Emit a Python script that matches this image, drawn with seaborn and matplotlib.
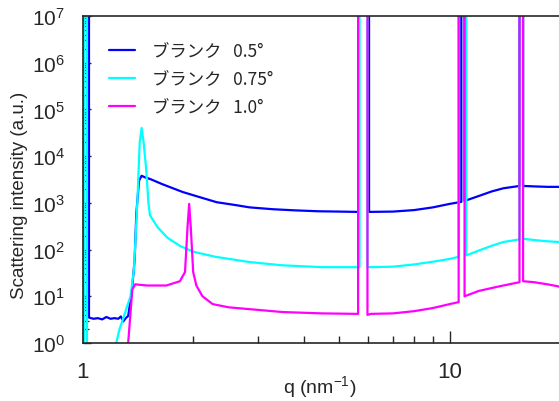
import numpy as np
import matplotlib
matplotlib.use("Agg")
import matplotlib.pyplot as plt
import seaborn as sns
import pandas as pd

# --- data (q in nm^-1, intensity in a.u.) ---
# 1e9 marks the detector-gap spikes that run off the top of the plot
GAP = 1e9

q_05 = [1.040, 1.040, 1.07, 1.10, 1.13, 1.16, 1.19, 1.22, 1.25, 1.27, 1.29, 1.31, 1.33,
        1.36, 1.385, 1.40, 1.424, 1.447, 1.48, 1.525, 1.65, 1.875, 2.1, 2.32, 2.6, 2.85,
        3.3, 3.8, 4.4, 5.0, 5.63, 5.63, 6.03, 6.03, 7.0, 8.0, 9.0, 10.0, 10.76, 10.76,
        10.98, 10.98, 12.0, 13.0, 14.0, 15.5, 15.5, 15.85, 15.85, 17.0, 18.5, 20.0]
I_05 = [GAP, 3.5, 3.3, 3.4, 3.2, 3.6, 3.3, 3.4, 3.3, 3.7, 2.9, 3.4, 3.8,
        12, 60, 600, 3000, 3800, 3500, 3250, 2500, 1700, 1300, 1030, 900, 800,
        730, 690, 660, 650, 640, GAP, GAP, 640, 650, 700, 800, 950, 1050, GAP,
        GAP, 1100, 1400, 1750, 2050, 2300, GAP, GAP, 2300, 2250, 2200, 2200]

q_075 = [1.000, 1.008, 1.008, 1.027, 1.027, 1.20, 1.23, 1.26, 1.29, 1.32, 1.35, 1.38,
         1.41, 1.43, 1.447, 1.465, 1.49, 1.51, 1.525, 1.6, 1.7, 1.84, 2.0, 2.3, 2.85,
         3.5, 4.5, 5.68, 5.68, 5.97, 5.97, 7.0, 8.0, 9.0, 10.0, 10.58, 10.58, 11.1, 11.1,
         12.0, 13.0, 14.0, 15.5, 15.5, 15.85, 15.85, 17.0, 18.5, 20.0]
I_075 = [0.3, 0.3, GAP, GAP, 0.3, 0.3, 0.9, 2.0, 3.4, 6, 10, 40,
         1200, 20000, 40000, 20000, 5000, 1000, 540, 300, 180, 120, 90, 70, 54,
         46, 42, 42, GAP, GAP, 42, 43, 48, 55, 63, 70, GAP, GAP, 75,
         95, 120, 145, 165, GAP, GAP, 170, 160, 150, 145]

q_10 = [1.30, 1.33, 1.365, 1.39, 1.50, 1.69, 1.84, 1.90, 1.93, 1.95, 1.97, 2.00, 2.04,
        2.12, 2.26, 2.5, 2.85, 3.5, 4.5, 5.63, 5.63, 5.97, 5.97, 6.1, 7.0, 8.0, 9.0,
        10.0, 10.58, 10.58, 10.98, 10.98, 12.0, 13.5, 15.0, 15.5, 15.5, 15.85, 15.85,
        17.0, 18.5, 20.0]
I_10 = [0.3, 1.0, 14, 18, 17, 17, 21, 33, 300, 950, 300, 33, 17,
        10, 6.8, 5.8, 5.3, 4.6, 4.3, 4.2, GAP, GAP, 4.0, 4.2, 4.3, 4.8, 5.6,
        6.8, 7.5, GAP, GAP, 10, 13, 16, 19, 20, GAP, GAP, 21,
        20, 18, 16]

labels = ["ブランク   0.5°", "ブランク   0.75°", "ブランク   1.0°"]
colors = ["#0000ff", "#00ffff", "#ff00ff"]
xticks = [1, 10]
yticks = [1e0, 1e1, 1e2, 1e3, 1e4, 1e5, 1e6, 1e7]

frames = []
for lab, q, I in zip(labels, [q_05, q_075, q_10], [I_05, I_075, I_10]):
    frames.append(pd.DataFrame({"q": q, "I": I, "series": lab}))
df = pd.concat(frames, ignore_index=True)

sns.set_style("ticks")
plt.rcParams["font.family"] = ["Liberation Sans", "Noto Sans CJK JP", "DejaVu Sans"]
plt.rcParams["mathtext.fontset"] = "custom"
plt.rcParams["mathtext.rm"] = "Liberation Sans"
plt.rcParams["mathtext.default"] = "regular"

fig = plt.figure(figsize=(5.59, 4.02), dpi=100)
ax = fig.add_axes([0.148, 0.1443, 0.854, 0.8134])

sns.lineplot(data=df, x="q", y="I", hue="series", palette=colors, estimator=None,
             sort=False, units="series", lw=1.6, ax=ax, legend=False)

ax.set_xscale("log")
ax.set_yscale("log")
ax.set_xlim(1, 20)
ax.set_ylim(1, 1e7)
ax.set_xticks(xticks)
ax.set_xticklabels([str(t) for t in xticks])
ax.set_yticks(yticks)
ax.set_yticklabels(["$10^{%d}$" % int(np.log10(t)) for t in yticks])
ax.yaxis.set_minor_locator(matplotlib.ticker.LogLocator(base=10, subs=np.arange(2, 10), numticks=20))
ax.yaxis.set_minor_formatter(matplotlib.ticker.NullFormatter())
ax.xaxis.set_minor_formatter(matplotlib.ticker.NullFormatter())

ax.tick_params(axis="x", which="major", direction="in", length=8.5, width=1, labelsize=16, pad=13)
ax.tick_params(axis="x", which="minor", direction="in", length=5, width=1)
ax.tick_params(axis="y", which="major", direction="in", length=5.5, width=1, labelsize=15, pad=13)
ax.tick_params(axis="y", which="minor", direction="in", length=4, width=1)
ax.spines["right"].set_visible(False)
for s in ["top", "left", "bottom"]:
    ax.spines[s].set_linewidth(1.2)

ax.set_xlabel("q (nm$^{-1}$)", fontsize=14)
ax.set_ylabel("Scattering intensity (a.u.)", fontsize=13.5)
ax.xaxis.set_label_coords(0.497, -0.092)
ax.yaxis.set_label_coords(-0.115, 0.455)

handles = [matplotlib.lines.Line2D([], [], color=c, lw=1.6) for c in colors]
ax.legend(handles, labels, loc="upper left", bbox_to_anchor=(0.040, 0.94), frameon=False,
          prop={"family": ["Noto Sans CJK JP", "DejaVu Sans"], "size": 12.5},
          handlelength=1.5, handletextpad=1.0, labelspacing=0.55, borderaxespad=0)

plt.savefig("out.png", dpi=100)
